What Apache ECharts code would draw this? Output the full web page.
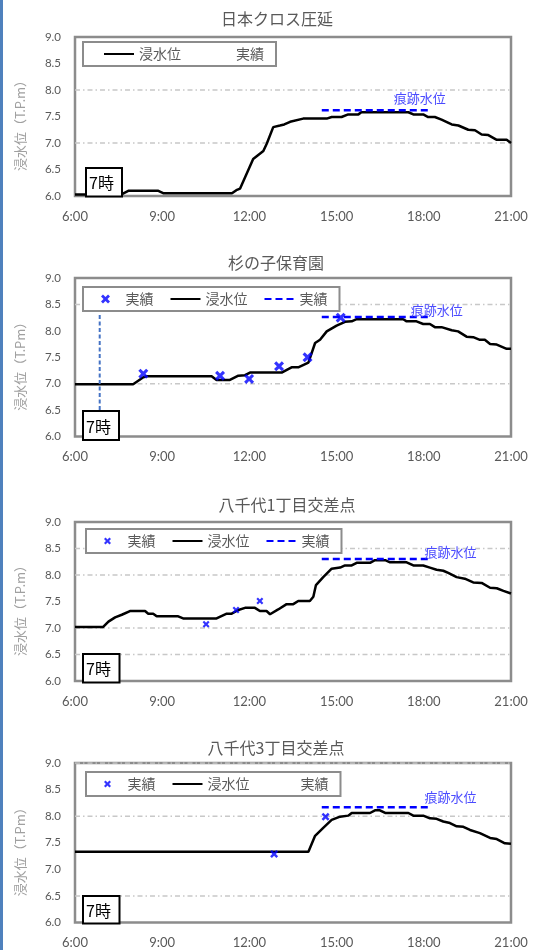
<!DOCTYPE html>
<html><head><meta charset="utf-8">
<script src="https://cdn.jsdelivr.net/npm/echarts@6/dist/echarts.min.js"></script>
<style>html,body{margin:0;padding:0;background:#fff}#c{width:537px;height:950px}</style>
</head><body><div id="c"></div>
<script>
// ---------------- data ----------------
const titles = ['日本クロス圧延', '杉の子保育園', '八千代1丁目交差点', '八千代3丁目交差点'];
const yNames = ['浸水位（T.P.m）', '浸水位（T.Pm）', '浸水位（T.P.m）', '浸水位（T.Pm）'];
const levelLabel = '浸水位';
const obsLabel = '実績';
const traceLabel = '痕跡水位';
const hourLabelSuffix = ':00';
const sevenLabel = '7時';

const time1 = [6.00,7.60,7.85,8.85,9.05,11.40,11.55,11.68,12.13,12.48,12.60,12.82,13.05,13.20,13.40,13.85,14.66,14.83,15.17,15.40,15.75,15.85,17.47,17.64,17.98,18.15,18.38,18.61,18.96,19.19,19.53,19.76,19.99,20.22,20.51,20.85,21.00];
const level1 = [6.03,6.03,6.10,6.10,6.05,6.05,6.11,6.14,6.70,6.85,6.99,7.30,7.33,7.35,7.40,7.46,7.46,7.49,7.49,7.54,7.54,7.58,7.58,7.54,7.54,7.49,7.49,7.44,7.35,7.33,7.25,7.24,7.16,7.15,7.06,7.06,7.00];

const time2 = [6.00,8.00,8.35,8.47,10.70,10.87,11.33,11.62,11.85,12.02,13.11,13.45,13.68,14.03,14.26,14.43,14.66,15.00,15.29,15.52,15.69,17.29,17.41,17.75,17.98,18.21,18.38,18.61,18.96,19.18,19.47,19.70,19.93,20.10,20.28,20.51,20.85,21.00];
const level2 = [6.99,6.99,7.12,7.14,7.14,7.07,7.07,7.15,7.16,7.21,7.21,7.31,7.31,7.40,7.77,7.83,7.99,8.10,8.17,8.18,8.22,8.22,8.18,8.18,8.13,8.13,8.07,8.07,8.01,7.99,7.89,7.88,7.83,7.83,7.75,7.74,7.66,7.66];
const obsTime2 = [8.35,10.99,11.99,13.02,14.00,15.14];
const obsValue2 = [7.19,7.15,7.09,7.33,7.50,8.25];

const time3 = [6.00,6.97,7.15,7.38,7.61,7.89,8.41,8.52,8.69,8.81,9.55,9.72,10.87,11.22,11.39,11.62,11.85,12.19,12.36,12.59,12.71,12.99,13.28,13.51,13.68,14.08,14.20,14.29,14.54,14.83,15.12,15.29,15.52,15.69,16.15,16.32,16.67,16.84,17.41,17.64,17.98,18.21,18.44,18.67,18.84,19.13,19.41,19.70,19.99,20.28,20.51,20.74,21.00];
const level3 = [7.02,7.02,7.12,7.20,7.25,7.32,7.32,7.27,7.27,7.22,7.22,7.18,7.18,7.27,7.27,7.34,7.38,7.38,7.32,7.32,7.26,7.35,7.45,7.45,7.51,7.51,7.59,7.81,7.96,8.12,8.14,8.18,8.18,8.23,8.23,8.28,8.28,8.24,8.24,8.18,8.18,8.14,8.10,8.08,8.04,7.96,7.93,7.86,7.85,7.76,7.75,7.70,7.65];
const obsTime3 = [10.51,11.54,12.36];
const obsValue3 = [7.07,7.34,7.51];

const time4 = [6.00,14.03,14.26,14.54,14.83,15.12,15.40,15.52,16.15,16.32,16.49,16.67,17.47,17.64,17.98,18.21,18.44,18.67,18.90,19.13,19.36,19.59,19.93,20.28,20.51,20.79,21.00];
const level4 = [7.33,7.33,7.63,7.78,7.93,7.99,8.01,8.06,8.06,8.11,8.11,8.06,8.06,8.01,8.01,7.96,7.95,7.90,7.87,7.81,7.80,7.74,7.68,7.59,7.57,7.49,7.48];
const obsTime4 = [12.85,14.62];
const obsValue4 = [7.29,7.99];

const traceStart = [14.49,14.49,14.49,14.49];
const traceEnd = [18.27,18.27,18.23,18.23];
const traceLevel = [7.62,8.26,8.30,8.17];

// chart 2: dashed 7時 marker line
const sevenLineTime = 6.85;
const sevenLineTop = 8.30;
const sevenLineBottom = 6.00;

const gridLevels = [[7.0,8.0],[7.0,8.5],[6.5,7.0,8.0,8.5],[6.5,8.0,9.0]];

// ---------------- chart ----------------
const times = [time1,time2,time3,time4];
const levels = [level1,level2,level3,level4];
const obsT = [null,obsTime2,obsTime3,obsTime4];
const obsV = [null,obsValue2,obsValue3,obsValue4];
const pair = (ts, vs) => ts.map((t, i) => [t, vs[i]]);

const cjk = "'Noto Sans CJK JP', sans-serif";
const num = "Lato, 'Noto Sans CJK JP', sans-serif";
const XSYM = 'path://M2.2,0L5,2.8L7.8,0L10,2.2L7.2,5L10,7.8L7.8,10L5,7.2L2.2,10L0,7.8L2.8,5L0,2.2Z';

const tops = [37, 278, 522, 763];
const heights = [159, 158.5, 159, 159.5];
const titleTop = [11, 255, 497, 740];
const titleX = [277, 276, 287, 276];
const legendPos = [[83,42],[83,287],[86,529],[86,772]];
const obsSize = [0, 10, 7, 8];
const legendIconH = [8, 9, 7, 7];
const labelDx = [-12, 5, 20, 20];
const labelDist = [6, 1, 0.5, 4];
const boxes = [[86,168,36,28.5],[83,411,36,29],[83,654,36.5,28.5],[83,896,36.5,27.5]];

const grids = [], xAxes = [], yAxes = [], series = [], titleOpts = [], legends = [];
const legendNames = {};
const graphics = [{type:'rect', shape:{x:0,y:0,width:3,height:950}, style:{fill:'#4f81bd'}, z:100}];

for (let i = 0; i < 4; i++) {
  grids.push({left:75, right:26, top:tops[i], height:heights[i], show:true,
    borderColor:'#8c8c8c', borderWidth:2.5, backgroundColor:'rgba(0,0,0,0)'});
  xAxes.push({type:'value', gridIndex:i, min:6, max:21, interval:3,
    axisLine:{show:false}, axisTick:{show:false}, splitLine:{show:false},
    axisLabel:{formatter:v => v + hourLabelSuffix, color:'#595959', fontSize:13, fontFamily:num, margin:14}});
  yAxes.push({type:'value', gridIndex:i, min:6, max:9, interval:0.5,
    axisLine:{show:false}, axisTick:{show:false}, splitLine:{show:false},
    axisLabel:{formatter:v => v.toFixed(1), color:'#595959', fontSize:11.5, fontFamily:num, margin:14},
    name:yNames[i], nameLocation:'middle', nameGap:48, nameRotate:90,
    nameTextStyle:{color:'#a0a0a0', fontSize:13, fontFamily:cjk, padding:[0,12,0,0]}});
  titleOpts.push({text:titles[i], left:titleX[i], top:titleTop[i], textAlign:'center', padding:0,
    textStyle:{color:'#595959', fontSize:16, fontWeight:'normal', fontFamily:cjk}});

  gridLevels[i].forEach((g, k) => {
    series.push({type:'line', name:'g'+i+'_'+k, xAxisIndex:i, yAxisIndex:i, data:[[6,g],[21,g]],
      symbol:'none', silent:true, z:1, animation:false,
      lineStyle:{color:'#c8c8c8', width:1.5, type:[5,3,1.5,3]}});
  });

  const lvlName = 'lvl'+i, trcName = 'trc'+i, obsName = 'obs'+i;
  legendNames[lvlName] = levelLabel; legendNames[trcName] = obsLabel; legendNames[obsName] = obsLabel;

  series.push({type:'line', name:lvlName, xAxisIndex:i, yAxisIndex:i, data:pair(times[i], levels[i]),
    symbol:'none', z:3, animation:false, color:'#000',
    lineStyle:{color:'#000', width:2.5}});

  series.push({type:'line', name:trcName, xAxisIndex:i, yAxisIndex:i,
    data:[[traceStart[i], traceLevel[i]],[traceEnd[i], traceLevel[i]]],
    symbol:'none', z:4, animation:false, color:'#0000ff',
    lineStyle:{color:'#0000ff', width:2.5, type:[7,4]},
    markPoint:{symbol:'circle', symbolSize:0, silent:true, animation:false,
      itemStyle:{color:'rgba(0,0,0,0)'},
      data:[{coord:[traceEnd[i], traceLevel[i]]}],
      label:{show:true, formatter:traceLabel, position:'top', distance:labelDist[i], offset:[labelDx[i],0],
        color:'#4b4bff', fontSize:13, fontFamily:cjk}}});

  if (obsT[i]) {
    series.push({type:'scatter', name:obsName, xAxisIndex:i, yAxisIndex:i, data:pair(obsT[i], obsV[i]),
      symbol:XSYM, symbolSize:obsSize[i], z:5, animation:false, itemStyle:{color:'#0000ff'}});
  }

  if (i === 1) {
    series.push({type:'line', name:'seven', xAxisIndex:i, yAxisIndex:i,
      data:[[sevenLineTime, sevenLineTop],[sevenLineTime, sevenLineBottom]],
      symbol:'none', z:3, animation:false, lineStyle:{color:'#4472c4', width:2, type:[4,2.5]}});
  }

  const hideSym = {opacity:0};
  let ldata;
  if (i === 0) ldata = [{name:lvlName, itemStyle:hideSym}, {name:trcName, icon:'none'}];
  else if (i === 3) ldata = [{name:obsName}, {name:lvlName, itemStyle:hideSym}, {name:trcName, icon:'none'}];
  else ldata = [{name:obsName}, {name:lvlName, itemStyle:hideSym}, {name:trcName, itemStyle:hideSym}];
  legends.push({data:ldata, left:legendPos[i][0], top:legendPos[i][1], orient:'horizontal',
    itemWidth:30, itemHeight:legendIconH[i], itemGap: i === 0 ? 20 : 16,
    padding: i === 0 ? [5,12,5,20] : [5,12,5,18],
    borderColor:'#8c8c8c', borderWidth:2, backgroundColor:'#fff', borderRadius:0,
    selectedMode:false, z:10,
    textStyle:{color:'#595959', fontSize:14, fontFamily:cjk},
    formatter:n => legendNames[n]});

  const b = boxes[i];
  graphics.push({type:'group', z:100, children:[
    {type:'rect', shape:{x:b[0], y:b[1], width:b[2], height:b[3]}, style:{fill:'#fff', stroke:'#000', lineWidth:2}, z:100},
    {type:'text', x:b[0]+3, y:b[1]+b[3]/2+1, style:{text:sevenLabel, fill:'#000', font:"16px 'Noto Sans CJK JP', sans-serif", verticalAlign:'middle', align:'left'}, z:101}
  ]});
}

const chart = echarts.init(document.getElementById('c'), null, {renderer:'canvas', width:537, height:950});
chart.setOption({
  animation:false,
  backgroundColor:'#fff',
  title:titleOpts, grid:grids, xAxis:xAxes, yAxis:yAxes, legend:legends, series:series,
  graphic:graphics
});
</script></body></html>
